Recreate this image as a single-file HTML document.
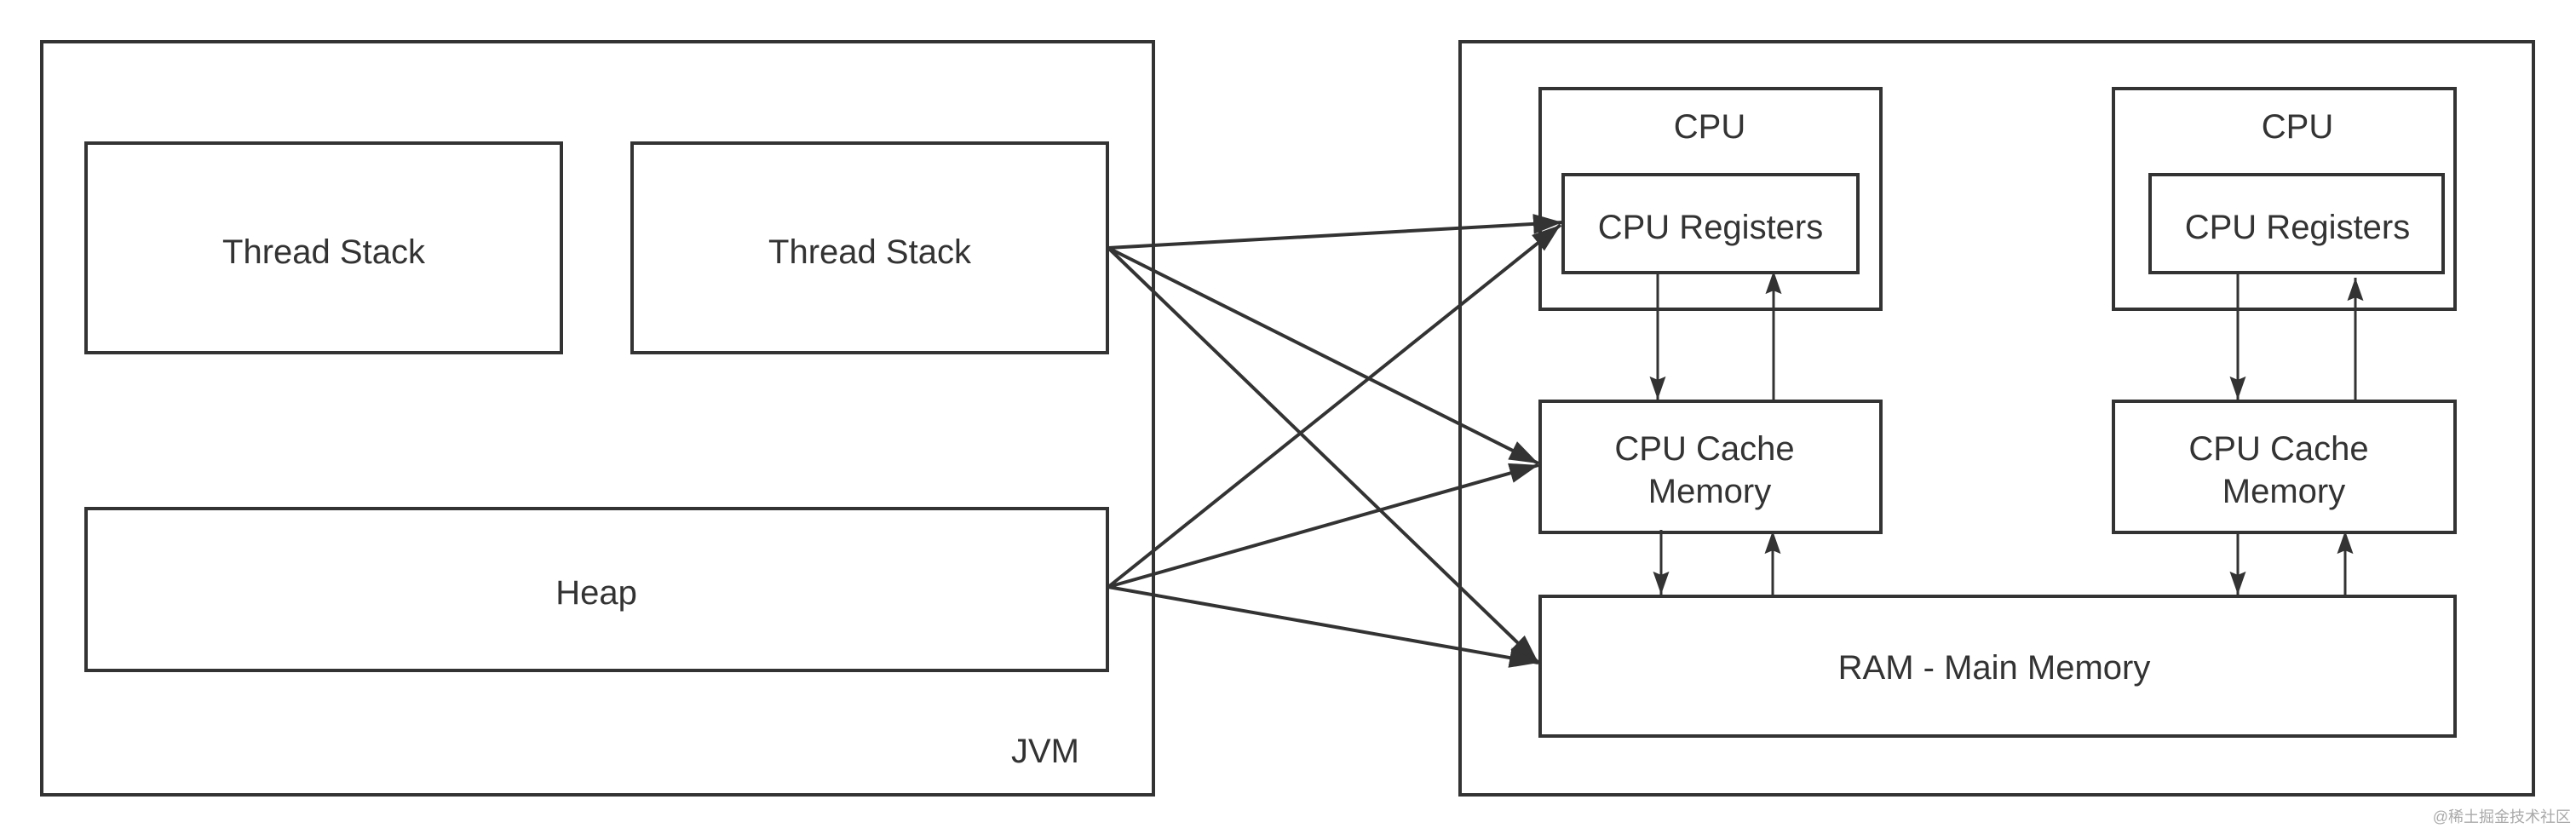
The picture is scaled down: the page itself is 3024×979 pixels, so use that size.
<!DOCTYPE html>
<html><head><meta charset="utf-8"><style>
html,body{margin:0;padding:0;background:#fff;}
svg{display:block}
text{font-family:"Liberation Sans","Noto Sans CJK SC",sans-serif;fill:#333;}
</style></head><body>
<svg width="3024" height="979" viewBox="0 0 3024 979" xmlns="http://www.w3.org/2000/svg">
<defs>
<marker id="ah" viewBox="0 0 20 14" refX="20" refY="7" markerWidth="34" markerHeight="24" markerUnits="userSpaceOnUse" orient="auto">
<path d="M0,0 L20,7 L0,14 z" fill="#333"/>
</marker>
<marker id="as" viewBox="0 0 20 14" refX="20" refY="7" markerWidth="28" markerHeight="19" markerUnits="userSpaceOnUse" orient="auto">
<path d="M0,0 L20,7 L0,14 L3,7 z" fill="#333"/>
</marker>
</defs>
<g fill="none" stroke="#333" stroke-width="4">
<rect x="49" y="49" width="1305" height="884"/>
<rect x="101" y="168" width="558" height="246"/>
<rect x="742" y="168" width="558" height="246"/>
<rect x="101" y="597" width="1199" height="190"/>
<rect x="1714" y="49" width="1260" height="884"/>
<rect x="1808" y="104" width="400" height="259"/>
<rect x="1835" y="205" width="346" height="115"/>
<rect x="2481" y="104" width="401" height="259"/>
<rect x="2524" y="205" width="344" height="115"/>
<rect x="1808" y="471" width="400" height="154"/>
<rect x="2481" y="471" width="401" height="154"/>
<rect x="1808" y="700" width="1074" height="164"/>
</g>
<g stroke="#333" stroke-width="4" fill="none" marker-end="url(#ah)">
<line x1="1301" y1="291" x2="1834" y2="261"/>
<line x1="1301" y1="291" x2="1806" y2="544"/>
<line x1="1301" y1="291" x2="1806" y2="778"/>
<line x1="1301" y1="689" x2="1832" y2="264"/>
<line x1="1301" y1="689" x2="1806" y2="546"/>
<line x1="1301" y1="689" x2="1806" y2="778"/>
</g>
<g stroke="#333" stroke-width="3" fill="none" marker-end="url(#as)">
<line x1="1946" y1="320" x2="1946" y2="469"/>
<line x1="2082" y1="471" x2="2082" y2="318"/>
<line x1="1950" y1="622" x2="1950" y2="698"/>
<line x1="2081" y1="700" x2="2081" y2="623"/>
<line x1="2627" y1="320" x2="2627" y2="469"/>
<line x1="2765" y1="471" x2="2765" y2="326"/>
<line x1="2627" y1="625" x2="2627" y2="698"/>
<line x1="2753" y1="700" x2="2753" y2="623"/>
</g>
<g font-size="40" text-anchor="middle" dominant-baseline="central">
<text x="380" y="296">Thread Stack</text>
<text x="1021" y="296">Thread Stack</text>
<text x="700" y="696">Heap</text>
<text x="1227" y="882">JVM</text>
<text x="2007" y="149">CPU</text>
<text x="2008" y="267">CPU Registers</text>
<text x="2697" y="149">CPU</text>
<text x="2697" y="267">CPU Registers</text>
<text x="2001" y="527">CPU Cache</text>
<text x="2007" y="577">Memory</text>
<text x="2675" y="527">CPU Cache</text>
<text x="2681" y="577">Memory</text>
<text x="2341" y="784">RAM - Main Memory</text>
</g>
<text x="3018" y="965" font-size="18" text-anchor="end" style="fill:#aaa">@稀土掘金技术社区</text>
</svg>
</body></html>
